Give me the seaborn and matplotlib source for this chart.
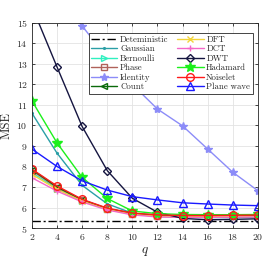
import numpy as np
import pandas as pd
import matplotlib
matplotlib.use("Agg")
import matplotlib.pyplot as plt
import seaborn as sns

q = [2, 4, 6, 8, 10, 12, 14, 16, 18, 20]
deterministic = [5.33] * 10
gaussian = [10.6, 8.65, 7.08, 6.18, 5.72, 5.56, 5.52, 5.51, 5.51, 5.52]
bernoulli = [7.7, 6.92, 6.33, 5.92, 5.68, 5.58, 5.56, 5.56, 5.57, 5.58]
phase = [7.8, 6.97, 6.36, 5.94, 5.70, 5.60, 5.58, 5.58, 5.59, 5.60]
identity = [17.5, 16.3, 14.85, 13.3, 12.0, 10.8, 9.98, 8.85, 7.72, 6.82]
count = [7.85, 7.0, 6.38, 5.95, 5.72, 5.62, 5.59, 5.59, 5.60, 5.61]
dft = [7.62, 6.88, 6.31, 5.91, 5.67, 5.57, 5.55, 5.55, 5.56, 5.57]
dct = [7.45, 6.8, 6.27, 5.88, 5.64, 5.54, 5.52, 5.52, 5.53, 5.54]
dwt = [15.8, 12.85, 9.95, 7.8, 6.45, 5.77, 5.47, 5.4, 5.42, 5.45]
hadamard = [11.2, 9.15, 7.47, 6.44, 5.83, 5.7, 5.66, 5.65, 5.65, 5.66]
noiselet = [7.87, 7.05, 6.4, 5.97, 5.73, 5.64, 5.61, 5.61, 5.62, 5.63]
plane_wave = [8.85, 8.0, 7.3, 6.85, 6.53, 6.37, 6.23, 6.17, 6.12, 6.09]

series = [
    ("Deteministic", deterministic),
    ("Gaussian", gaussian),
    ("Bernoulli", bernoulli),
    ("Phase", phase),
    ("Identity", identity),
    ("Count", count),
    ("DFT", dft),
    ("DCT", dct),
    ("DWT", dwt),
    ("Hadamard", hadamard),
    ("Noiselet", noiselet),
    ("Plane wave", plane_wave),
]

styles = {
    "Deteministic": dict(color="black", marker=None, ls=(0, (6, 2, 1.5, 2)), open=False, ms=0),
    "Gaussian": dict(color="#2a9fa6", marker=".", ls="-", open=False, ms=2.5),
    "Bernoulli": dict(color="#2ff0c0", marker=">", ls="-", open=True, ms=5),
    "Phase": dict(color="#b0625a", marker="s", ls="-", open=True, ms=4.5),
    "Identity": dict(color="#8c8cf8", marker="*", ls="-", open=False, ms=6),
    "Count": dict(color="#0b6a0b", marker="<", ls="-", open=True, ms=5),
    "DFT": dict(color="#f2d43a", marker="x", ls="-", open=False, ms=4),
    "DCT": dict(color="#f466c8", marker="+", ls="-", open=False, ms=5),
    "DWT": dict(color="#151540", marker="D", ls="-", open=True, ms=4),
    "Hadamard": dict(color="#1cf01c", marker="*", ls="-", open=False, ms=7),
    "Noiselet": dict(color="#ff1a1a", marker="o", ls="-", open=True, ms=5.5),
    "Plane wave": dict(color="#1a1aff", marker="^", ls="-", open=True, ms=5.5),
}

rows = []
for name, vals in series:
    for qq, v in zip(q, vals):
        rows.append({"q": qq, "MSE": v, "method": name})
df = pd.DataFrame(rows)

sns.set_style("ticks")
plt.rcParams["font.family"] = ["serif"]
plt.rcParams["font.serif"] = ["cmr10", "DejaVu Serif"]
plt.rcParams["mathtext.fontset"] = "cm"
plt.rcParams["axes.formatter.use_mathtext"] = True

fig = plt.figure(figsize=(2.8, 2.63), dpi=100)
ax = fig.add_axes([0.114, 0.133, 0.807, 0.78])

for name, _ in series:
    st = styles[name]
    sub = df[df["method"] == name]
    kw = dict(color=st["color"], linewidth=1.0, ax=ax, label=name, legend=False,
              estimator=None, errorbar=None)
    if st["marker"] is not None:
        kw.update(marker=st["marker"], markersize=st["ms"], markeredgewidth=1.0,
                  markeredgecolor=st["color"],
                  markerfacecolor="none" if st["open"] else st["color"])
    sns.lineplot(data=sub, x="q", y="MSE", **kw)
    ax.lines[-1].set_linestyle(st["ls"])

ax.set_xlim(2, 20)
ax.set_ylim(5, 15)
ax.set_xticks(q)
ax.set_yticks(range(5, 16))
ax.grid(True, color="#e3e3e3", linewidth=0.6)
ax.set_axisbelow(True)
ax.tick_params(direction="in", length=2.5, width=0.6, labelsize=7, top=True, right=True,
               colors="#262626", pad=3)
for sp in ax.spines.values():
    sp.set_color("#262626")
    sp.set_linewidth(0.6)
ax.set_xlabel(r"$q$", fontsize=9.5, labelpad=2)
ax.set_ylabel("MSE", fontsize=9, labelpad=3)

leg = ax.legend(ncol=2, loc="upper right", bbox_to_anchor=(0.985, 0.96), fontsize=6.3,
                frameon=True, fancybox=False, edgecolor="#262626", framealpha=1,
                handlelength=3.0, handletextpad=0.3, columnspacing=1.0,
                labelspacing=0.12, borderpad=0.3, borderaxespad=0.2)
leg.get_frame().set_linewidth(0.6)

fig.savefig("out.png", dpi=100)
